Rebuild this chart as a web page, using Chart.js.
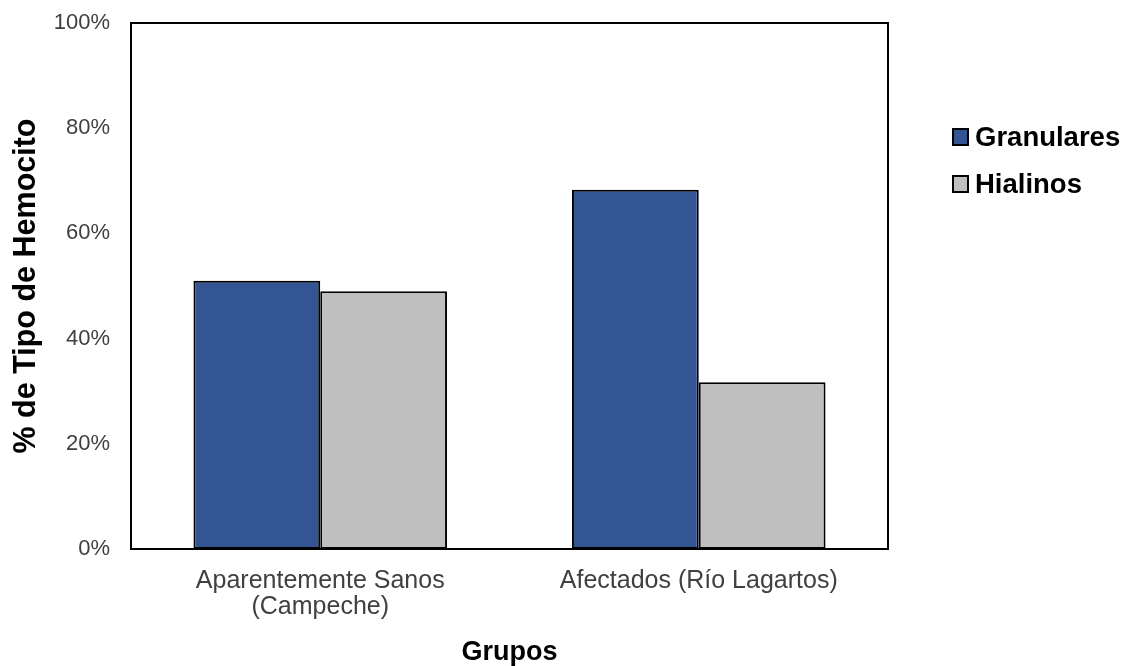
<!DOCTYPE html>
<html>
<head>
<meta charset="utf-8">
<script src="https://cdn.jsdelivr.net/npm/chart.js@4"></script>
<style>
  body { margin: 0; background: #fff; }
  .wrap { width: 1127px; height: 666px; }
</style>
</head>
<body>
<div class="wrap"><canvas id="chart" width="1127" height="666"></canvas></div>
<script>
const groups = [['Aparentemente Sanos', '(Campeche)'], 'Afectados (Río Lagartos)'];
const granulares = [51.0, 68.3];
const hialinos = [49.0, 31.7];
const yTicks = [0, 20, 40, 60, 80, 100];

const blue = '#335593';
const grey = '#bfbfbf';
const black = '#000000';
const tickColor = '#404040';
const fontFamily = '"Liberation Sans", Arial, sans-serif';

// frame around the plot area
const chartAreaBorder = {
  id: 'chartAreaBorder',
  afterDatasetsDraw(chart) {
    const { ctx, chartArea: { left, top, width, height } } = chart;
    ctx.save();
    ctx.strokeStyle = black;
    ctx.lineWidth = 2;
    ctx.strokeRect(left, top, width, height);
    ctx.restore();
  }
};

// legend drawn to the right of the plot, upper part
const sideLegend = {
  id: 'sideLegend',
  afterDraw(chart) {
    const { ctx, chartArea: { right } } = chart;
    ctx.save();
    ctx.font = 'bold 27.5px ' + fontFamily;
    ctx.textBaseline = 'middle';
    chart.data.datasets.forEach((ds, i) => {
      const x = right + 65;
      const y = 137 + i * 47;
      ctx.fillStyle = ds.backgroundColor;
      ctx.fillRect(x, y - 8, 15, 16);
      ctx.strokeStyle = black;
      ctx.lineWidth = 2;
      ctx.strokeRect(x, y - 8, 15, 16);
      ctx.fillStyle = black;
      ctx.fillText(ds.label, x + 22, y + 1);
    });
    ctx.restore();
  }
};

const chart = new Chart(document.getElementById('chart'), {
  type: 'bar',
  plugins: [ chartAreaBorder, sideLegend ],
  data: {
    labels: groups,
    datasets: [
      {
        label: 'Granulares',
        data: granulares,
        backgroundColor: blue,
        borderColor: black,
        borderWidth: 2,
        borderSkipped: false,
      },
      {
        label: 'Hialinos',
        data: hialinos,
        backgroundColor: grey,
        borderColor: black,
        borderWidth: 2,
        borderSkipped: false,
      }
    ]
  },
  options: {
    responsive: false,
    animation: false,
    layout: {
      padding: { left: 0, top: 23, right: 239, bottom: 0 }
    },
    datasets: {
      bar: {
        categoryPercentage: 0.67,
        barPercentage: 1.0,
      }
    },
    scales: {
      y: {
        min: 0,
        max: 100,
        afterBuildTicks: (axis) => {
          axis.ticks = yTicks.map(v => ({ value: v }));
        },
        grid: { display: false, drawTicks: false },
        border: { display: false },
        ticks: {
          padding: 21,
          color: tickColor,
          font: { family: fontFamily, size: 22 },
          callback: (val) => val + '%',
        },
        title: {
          display: true,
          text: '% de Tipo de Hemocito',
          color: black,
          padding: { top: 8, bottom: 0 },
          font: { family: fontFamily, size: 30.5, weight: 'bold' },
        },
        afterFit: (axis) => {
          axis.width = 131;
          axis.paddingTop = 0;
          axis.paddingBottom = 0;
        }
      },
      x: {
        grid: { display: false, drawTicks: false },
        border: { display: false },
        ticks: {
          padding: 19,
          maxRotation: 0,
          color: tickColor,
          font: { family: fontFamily, size: 25, lineHeight: 1.04 },
        },
        title: {
          display: true,
          text: 'Grupos',
          color: black,
          padding: { top: 0, bottom: 0 },
          font: { family: fontFamily, size: 27, weight: 'bold', lineHeight: 1.0 },
        },
        afterFit: (axis) => {
          axis.height = 117;
        }
      },
    },
    plugins: {
      tooltip: { enabled: false },
      legend: { display: false },
    },
  },
});
</script>
</body>
</html>
